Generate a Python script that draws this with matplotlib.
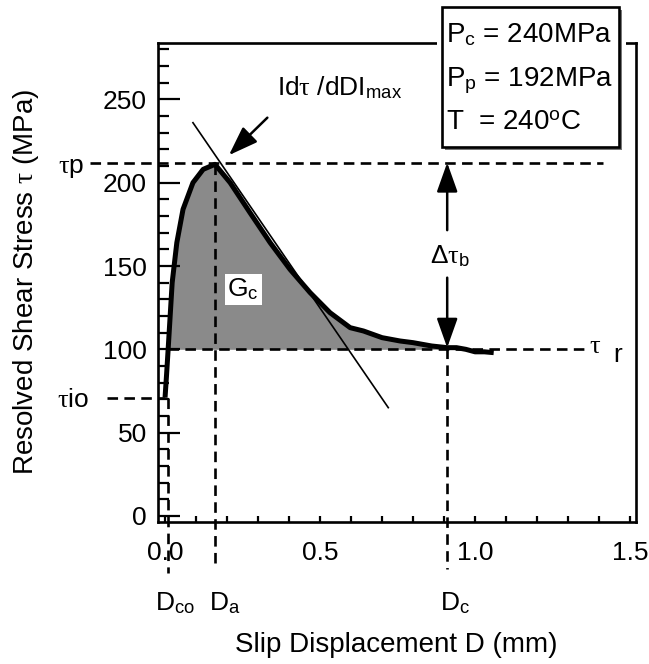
import numpy as np
import matplotlib.pyplot as plt
from matplotlib.patches import Rectangle

plt.rcParams["font.family"] = ["Liberation Sans", "DejaVu Sans"]
plt.rcParams["mathtext.fontset"] = "custom"
plt.rcParams["mathtext.rm"] = "Liberation Sans"
plt.rcParams["mathtext.it"] = "Liberation Serif"

# ----------------------------
# Data
# ----------------------------
slip_mm = [0.0, 0.005, 0.01, 0.023, 0.038, 0.058, 0.09, 0.123, 0.161, 0.21,
           0.274, 0.339, 0.403, 0.468, 0.532, 0.597, 0.64, 0.70, 0.758, 0.80,
           0.86, 0.91, 0.94, 0.97, 1.0, 1.03, 1.06]
stress_mpa = [71, 85, 100, 140, 164, 184, 200, 208, 211, 200,
              182, 164, 148, 134, 122, 113, 111, 107, 105, 104,
              102, 101, 101, 100, 98.5, 98.5, 98]

tau_p, tau_r, tau_io = 212, 100, 71
D_co, D_a, D_c = 0.01, 0.16, 0.91
tangent_D = [0.09, 0.72]
tangent_tau = [236, 65]

xticks = [0.0, 0.5, 1.0, 1.5]
xticklabels = ["0.0", "0.5", "1.0", "1.5"]
yticks = [0, 50, 100, 150, 200, 250]

box_lines = [r"P$_{\rm c}$ = 240MPa", r"P$_{\rm p}$ = 192MPa", r"T  = 240$^{\rm o}$C"]

# ----------------------------
# Figure
# ----------------------------
fig = plt.figure(figsize=(6.49, 6.64), dpi=100)
ax = fig.add_axes([0.2435, 0.2139, 0.7365, 0.7213])

D = np.array(slip_mm)
tau = np.array(stress_mpa)

mask = (D >= D_co) & (D <= D_c)
ax.fill_between(D[mask], tau[mask], tau_r, color="#8a8a8a", lw=0, zorder=1)

dash = dict(color="black", lw=1.9, ls=(0, (4, 2.4)), clip_on=False, zorder=2)
ax.plot([-0.242, 1.413], [tau_p, tau_p], **dash)
ax.plot([D_co, 1.36], [tau_r, tau_r], **dash)
ax.plot([-0.187, 0.0], [tau_io, tau_io], **dash)
ax.plot([D_co, D_co], [tau_io, -34], **dash)
ax.plot([D_a, D_a], [211, -28], **dash)
ax.plot([D_c, D_c], [101, -32], **dash)

ax.plot(D, tau, color="black", lw=3.6, solid_capstyle="butt", zorder=4)
ax.plot(tangent_D, tangent_tau, color="black", lw=1.2, zorder=5)

# arrows
arrow = dict(arrowstyle="-|>,head_length=0.9,head_width=0.32", color="black",
             lw=1.8, mutation_scale=20, shrinkA=0, shrinkB=0)
ax.annotate("", xy=(0.206, 216.5), xytext=(0.33, 239), arrowprops=arrow, zorder=6)
ax.annotate("", xy=(D_c, tau_p), xytext=(D_c, 171.5), arrowprops=arrow, zorder=6)
ax.annotate("", xy=(D_c, tau_r + 1), xytext=(D_c, 143), arrowprops=arrow, zorder=6)

# labels
fs = 19
ax.text(0.361, 252.6, r"Id$\tau$ /dDI$_{\rm max}$", fontsize=fs, va="baseline")
ax.text(-0.345, 205.8, r"$\tau$p", fontsize=fs, va="baseline", clip_on=False)
ax.text(-0.35, 65.4, r"$\tau$io", fontsize=fs, va="baseline", clip_on=False)
ax.text(1.368, 97.8, r"$\tau$", fontsize=fs, va="baseline", clip_on=False)
ax.text(1.445, 92.4, "r", fontsize=fs, va="baseline", clip_on=False)
ax.text(0.855, 151.8, r"$\Delta\tau_{\rm b}$", fontsize=fs, va="baseline")
ax.text(0.252, 136, r"G$_{\rm c}$", fontsize=fs, ha="center", va="center", zorder=7,
        bbox=dict(facecolor="white", edgecolor="none", pad=2))
ax.text(-0.032, -56.4, r"D$_{\rm co}$", fontsize=fs, va="baseline", clip_on=False)
ax.text(0.142, -56.4, r"D$_{\rm a}$", fontsize=fs, va="baseline", clip_on=False)
ax.text(0.887, -56.4, r"D$_{\rm c}$", fontsize=fs, va="baseline", clip_on=False)

# axes cosmetics
ax.set_xlim(-0.0226, 1.519)
ax.set_ylim(-3.6, 283.8)
ax.set_xticks(xticks)
ax.set_xticklabels(xticklabels)
ax.set_xticks(np.arange(0.1, 1.5, 0.1), minor=True)
ax.set_yticks(yticks)
ax.set_yticks([v for v in range(10, 290, 10) if v % 50], minor=True)
for s in ax.spines.values():
    s.set_linewidth(1.9)
ax.tick_params(axis="both", which="both", direction="in", width=1.6, labelsize=fs)
ax.tick_params(axis="x", which="both", length=4.5, pad=14)
ax.tick_params(axis="y", which="major", length=16, pad=8)
ax.tick_params(axis="y", which="minor", length=8)

fig.text(396 / 649, 1 - 645 / 664, "Slip Displacement D (mm)", fontsize=20,
         ha="center", va="center")
fig.text(26 / 649, 1 - 282 / 664, r"Resolved Shear Stress $\tau$ (MPa)", fontsize=20,
         ha="center", va="center", rotation=90)

# parameter box with shadow; white margin breaks the top spine
bx, by, bw, bh = 442 / 649, 1 - 147 / 664, 177 / 649, 140 / 664
fig.patches.append(Rectangle((bx - 5 / 649, by - 6 / 664), bw + 12 / 649, bh + 6 / 664,
                             transform=fig.transFigure, facecolor="white",
                             edgecolor="none", zorder=7))
fig.patches.append(Rectangle((bx + 3 / 649, by - 3 / 664), bw, bh, transform=fig.transFigure,
                             facecolor="#777777", edgecolor="none", zorder=8))
fig.patches.append(Rectangle((bx, by), bw, bh, transform=fig.transFigure,
                             facecolor="white", edgecolor="black", lw=1.9, zorder=9))
for i, line in enumerate(box_lines):
    fig.text(446 / 649, 1 - (42 + 44 * i) / 664, line, fontsize=20, va="baseline", zorder=10)

fig.savefig("out.png", dpi=100)
